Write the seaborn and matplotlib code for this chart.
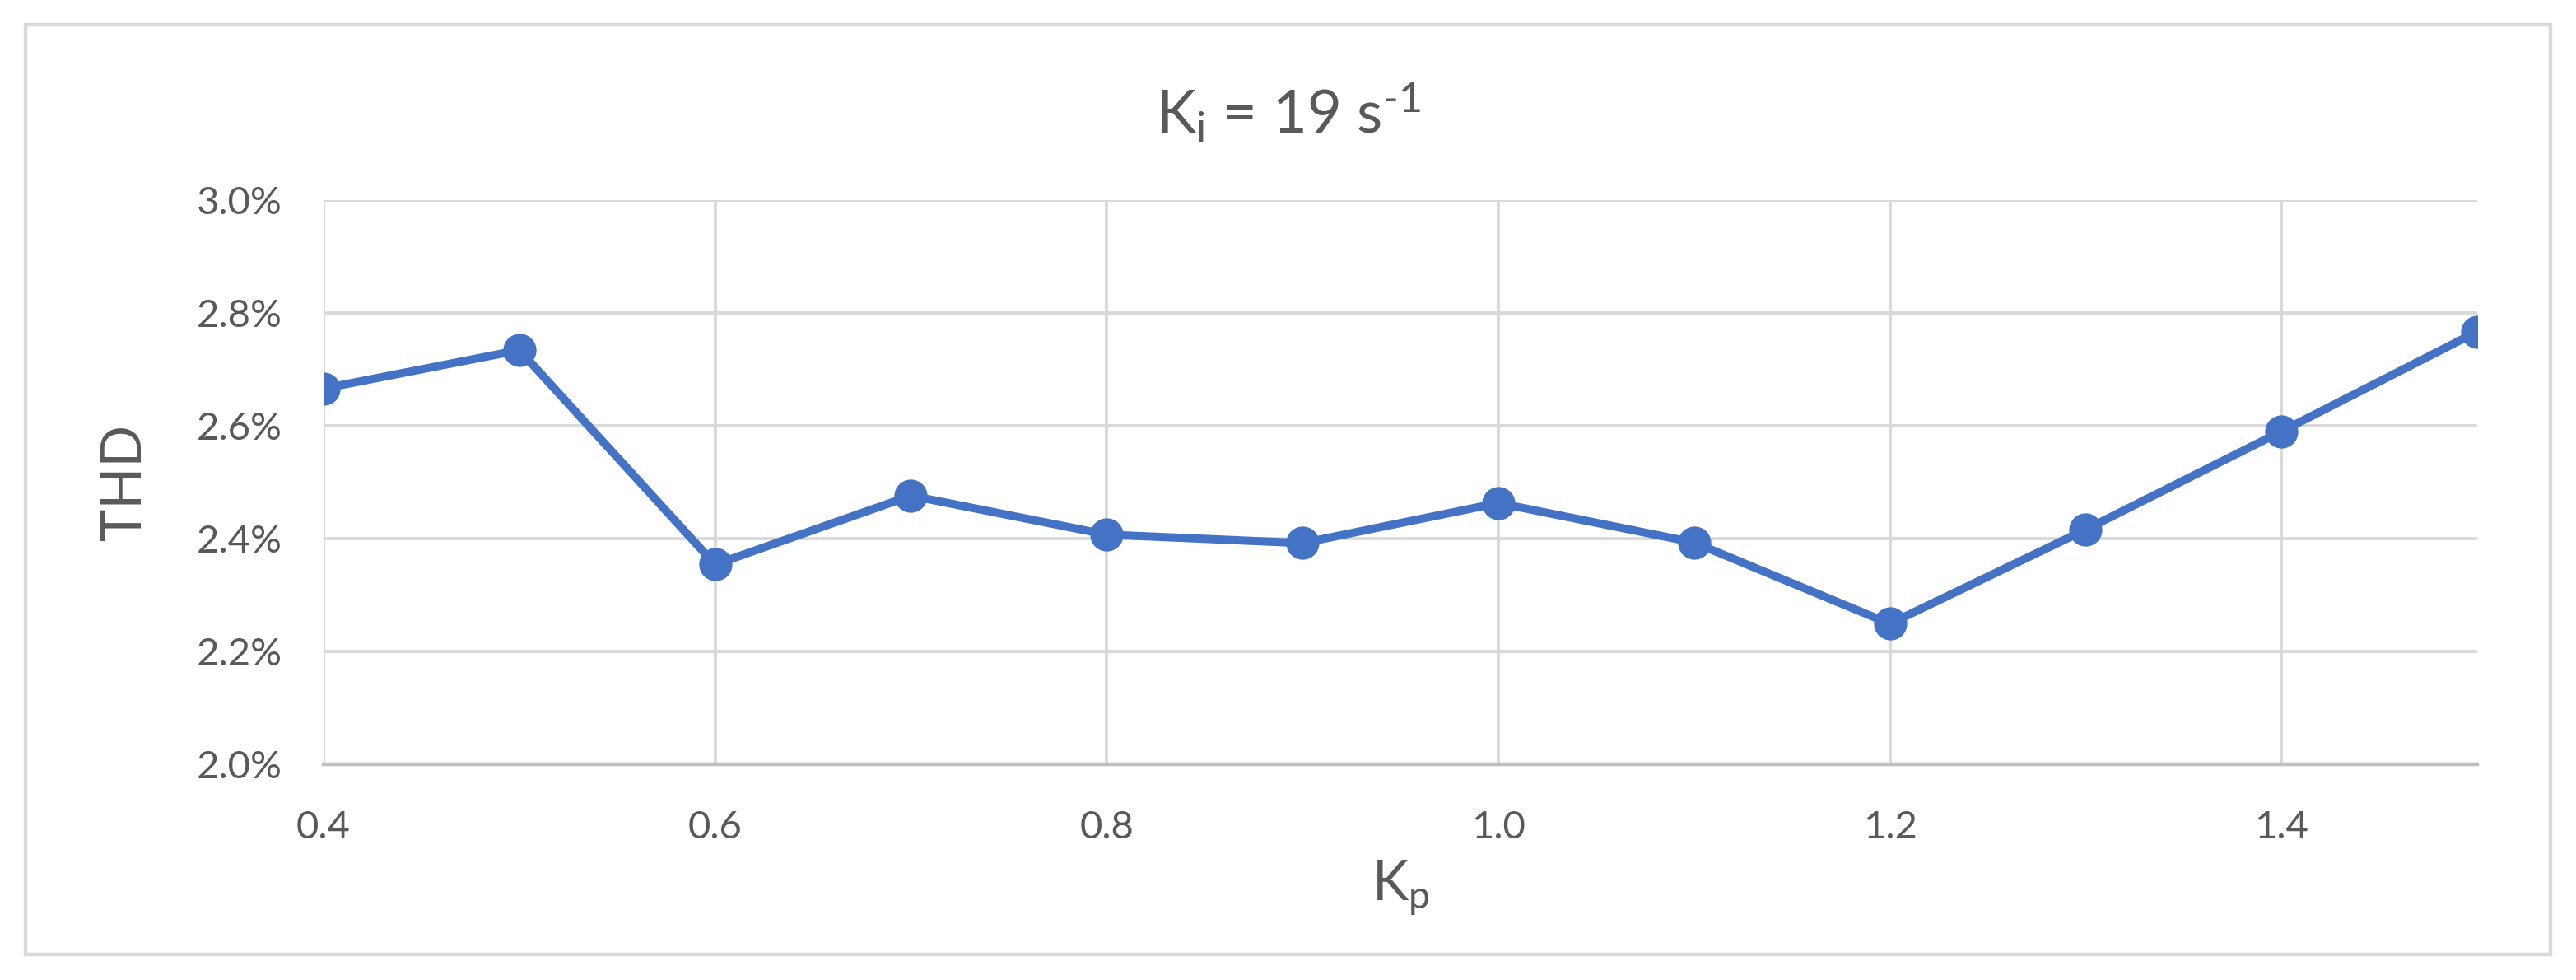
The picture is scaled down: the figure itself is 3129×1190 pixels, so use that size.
import numpy as np
import matplotlib
matplotlib.use("Agg")
import matplotlib.pyplot as plt
import seaborn as sns
from matplotlib.ticker import FuncFormatter, MultipleLocator
from matplotlib.patches import Rectangle

# data
kp = [0.4, 0.5, 0.6, 0.7, 0.8, 0.9, 1.0, 1.1, 1.2, 1.3, 1.4, 1.5]
thd = [2.666, 2.734, 2.354, 2.476, 2.407, 2.392, 2.463, 2.393, 2.249, 2.416, 2.590, 2.767]
x_ticks = [0.4, 0.6, 0.8, 1.0, 1.2, 1.4]

sns.set_style("white")
plt.rcParams['font.family'] = ['Lato', 'DejaVu Sans']
plt.rcParams['mathtext.default'] = 'regular'

text_col = '#595959'
grid_col = '#d9d9d9'
line_col = '#4472C4'

fig = plt.figure(figsize=(15.645, 5.95), dpi=200)
ax = fig.add_axes([0.1256, 0.2202, 0.8361, 0.5756])

# outer chart border
fig.patches.append(Rectangle((31 / 3129, 1 - 1159 / 1190), (3098 - 31) / 3129, (1159 - 30) / 1190,
                             transform=fig.transFigure, fill=False, edgecolor=grid_col, linewidth=1.6))

sns.lineplot(x=kp, y=thd, ax=ax, color=line_col, linewidth=3.6, marker='o',
             markersize=14.5, markeredgewidth=0, zorder=3)

ax.set_xlim(0.4, 1.5)
ax.set_ylim(2.0, 3.0)
ax.set_xticks(x_ticks)
ax.set_xticklabels([f"{v:.1f}" for v in x_ticks])
ax.yaxis.set_major_locator(MultipleLocator(0.2))
ax.yaxis.set_major_formatter(FuncFormatter(lambda v, p: f"{v:.1f}%"))

ax.grid(True, color=grid_col, linewidth=1.4)
ax.set_axisbelow(True)
for s in ['top', 'right', 'left']:
    ax.spines[s].set_visible(False)
ax.spines['bottom'].set_color('#bfbfbf')
ax.spines['bottom'].set_linewidth(1.6)

ax.tick_params(axis='both', length=0, labelsize=17, labelcolor=text_col)
ax.tick_params(axis='x', pad=20)
ax.tick_params(axis='y', pad=18)

ax.set_xlabel("K$_p$", fontsize=24, color=text_col, labelpad=6)
ax.set_ylabel("THD", fontsize=24, color=text_col, labelpad=20)
fig.text(0.5, 1 - 137 / 1190, "K$_i$ = 19 s$^{\u2010 1}$", ha='center', va='center',
         fontsize=26, color=text_col)

fig.savefig("out.png", dpi=200, facecolor='white')
